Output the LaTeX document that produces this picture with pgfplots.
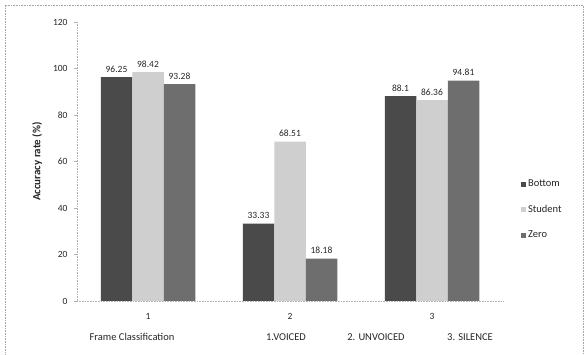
\documentclass[border=0pt]{standalone}
\usepackage{pgfplots}
\pgfplotsset{compat=1.18}
\usepackage{fontspec}
\setmainfont{Carlito}

\definecolor{cBottom}{HTML}{4A4A4A}
\definecolor{cStudent}{HTML}{CFCFCF}
\definecolor{cZero}{HTML}{6E6E6E}

\begin{document}
\begin{tikzpicture}[x=1pt,y=1pt]
\useasboundingbox (0,0) rectangle (588,355);
% outer frame
\draw[gray!70, densely dotted, line width=0.6pt] (5,-20) rectangle (583,350);

\begin{axis}[
  at={(77pt,54pt)}, anchor=south west,
  scale only axis, width=426pt, height=279pt,
  /pgf/number format/assume math mode=true,
  ybar=0pt, bar width=31.5pt,
  xmin=0.5, xmax=3.5, ymin=0, ymax=120,
  xtick={1,2,3}, xticklabels={1,2,3},
  ytick={0,20,...,120},
  axis x line*=bottom, axis y line*=left,
  axis line style={gray!60, densely dotted, line width=0.6pt},
  x axis line style={-}, y axis line style={-},
  tick align=outside,
  major tick length=3pt,
  xtick style={draw=none},
  ytick style={gray!60, line width=0.6pt},
  tick label style={font=\fontsize{9.5}{11}\selectfont, text=black!85},
  yticklabel style={xshift=-3pt},
  xticklabel style={yshift=-6pt},
  ylabel={Accuracy rate (\%)},
  ylabel style={font=\fontsize{11}{13}\selectfont\bfseries, text=black!85, yshift=4pt},
  nodes near coords,
  nodes near coords style={font=\fontsize{9.5}{11}\selectfont, text=black!85, anchor=south, yshift=1.5pt,
    /pgf/number format/.cd, fixed, precision=2},
  legend style={at={(1.035,0.448)}, anchor=north west, draw=none, fill=none,
    font=\fontsize{10.5}{12}\selectfont, text=black!85, row sep=13pt,
    /tikz/every even column/.append style={column sep=2pt}},
  legend cell align=left,
  legend image code/.code={\fill[#1] (0pt,-2.5pt) rectangle (5pt,2.5pt);},
]
\addplot[fill=cBottom, draw=none] coordinates {(1,96.25) (2,33.33) (3,88.1)};
\addplot[fill=cStudent, draw=none] coordinates {(1,98.42) (2,68.51) (3,86.36)};
\addplot[fill=cZero, draw=none] coordinates {(1,93.28) (2,18.18) (3,94.81)};
\legend{Bottom,Student,Zero}
\end{axis}

% category names under the group numbers
\begin{scope}[every node/.style={font=\fontsize{10.5}{12}\selectfont, text=black!85}]
\node at (132,18) {Frame Classification};
\node at (286,18) {1.VOICED};
\node at (376,18) {2. UNVOICED};
\node at (470,18) {3. SILENCE};
\end{scope}
\end{tikzpicture}
\end{document}
